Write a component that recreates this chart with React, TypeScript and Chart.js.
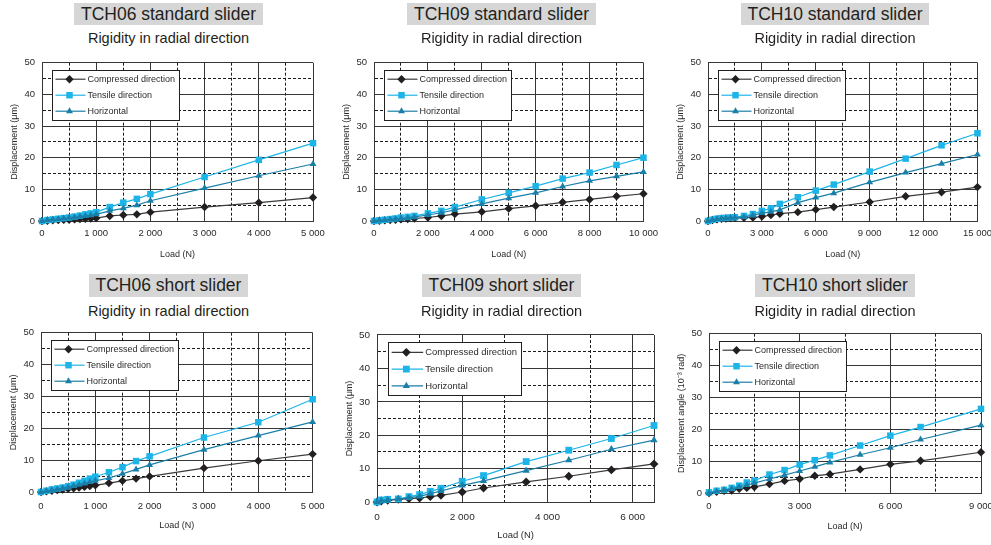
import React, { useEffect, useRef } from 'react';
import { Chart, registerables } from 'chart.js';

Chart.register(...registerables);

const FONT = "'Liberation Sans', Arial, Helvetica, sans-serif";

// ---------- DATA ----------
const seriesLabels = ['Compressed direction', 'Tensile direction', 'Horizontal'];

// TCH06 standard slider
const tch06StdLoad = [0, 100, 200, 300, 400, 500, 600, 700, 800, 900, 1000, 1250, 1500, 1750, 2000, 3000, 4000, 5000];
const tch06StdCompressed = [0, 0.1, 0.2, 0.3, 0.35, 0.4, 0.5, 0.6, 0.7, 0.8, 0.9, 1.6, 1.9, 2.1, 2.8, 4.4, 5.8, 7.4];
const tch06StdTensile = [0, 0.3, 0.5, 0.7, 0.9, 1.1, 1.4, 1.7, 2.1, 2.4, 2.8, 4.4, 5.8, 7.0, 8.5, 13.9, 19.3, 24.6];
const tch06StdHorizontal = [0, 0.3, 0.5, 0.6, 0.8, 1.0, 1.2, 1.4, 1.6, 1.8, 2.1, 3.2, 4.0, 5.0, 6.4, 10.4, 14.3, 18.0];

// TCH09 standard slider
const tch09StdLoad = [0, 200, 400, 600, 800, 1000, 1250, 1500, 2000, 2500, 3000, 4000, 5000, 6000, 7000, 8000, 9000, 10000];
const tch09StdCompressed = [0, 0.1, 0.2, 0.3, 0.4, 0.5, 0.6, 0.8, 1.1, 1.6, 2.2, 2.9, 3.9, 4.8, 5.9, 6.8, 7.8, 8.6];
const tch09StdTensile = [0, 0.2, 0.4, 0.6, 0.8, 1.1, 1.3, 1.6, 2.4, 3.2, 4.4, 6.8, 8.9, 11.0, 13.4, 15.3, 17.7, 20.0];
const tch09StdHorizontal = [0, 0.2, 0.3, 0.5, 0.6, 0.8, 1.0, 1.3, 1.9, 2.6, 3.5, 5.4, 7.2, 8.9, 10.9, 12.7, 14.1, 15.5];

// TCH10 standard slider
const tch10StdLoad = [0, 250, 500, 750, 1000, 1250, 1500, 2000, 2500, 3000, 3500, 4000, 5000, 6000, 7000, 9000, 11000, 13000, 15000];
const tch10StdCompressed = [0, 0.3, 0.5, 0.7, 0.8, 0.9, 1.0, 1.0, 1.1, 1.4, 1.9, 2.3, 2.8, 3.6, 4.4, 6.0, 7.8, 9.1, 10.7];
const tch10StdTensile = [0, 0.4, 0.7, 0.9, 1.0, 1.1, 1.2, 1.6, 2.2, 3.2, 4.0, 5.4, 7.5, 9.6, 11.5, 15.6, 19.7, 23.9, 27.7];
const tch10StdHorizontal = [0, 0.3, 0.6, 0.8, 0.9, 1.0, 1.1, 1.3, 1.8, 2.5, 2.9, 3.5, 5.8, 7.4, 8.8, 12.2, 15.3, 18.1, 21.0];

// TCH06 short slider
const tch06ShortLoad = [0, 100, 200, 300, 400, 500, 600, 700, 800, 900, 1000, 1250, 1500, 1750, 2000, 3000, 4000, 5000];
const tch06ShortCompressed = [0, 0.2, 0.4, 0.6, 0.8, 1.0, 1.2, 1.4, 1.6, 1.9, 2.1, 2.8, 3.5, 4.2, 4.9, 7.5, 9.8, 11.9];
const tch06ShortTensile = [0, 0.4, 0.8, 1.1, 1.4, 1.8, 2.3, 2.9, 3.5, 4.2, 4.8, 6.2, 7.8, 9.7, 11.2, 17.1, 21.9, 29.1];
const tch06ShortHorizontal = [0, 0.3, 0.6, 0.9, 1.2, 1.5, 1.9, 2.3, 2.7, 3.1, 3.5, 4.4, 5.7, 7.1, 8.5, 13.3, 17.7, 22.0];

// TCH09 short slider
const tch09ShortLoad = [0, 100, 250, 500, 750, 1000, 1250, 1500, 2000, 2500, 3500, 4500, 5500, 6500];
const tch09ShortCompressed = [0, 0.3, 0.5, 0.8, 1.0, 1.2, 1.6, 2.0, 3.0, 4.2, 6.0, 7.7, 9.6, 11.4];
const tch09ShortTensile = [0, 0.6, 0.8, 0.9, 1.6, 2.2, 3.2, 4.1, 6.2, 7.9, 12.1, 15.5, 19.0, 22.9];
const tch09ShortHorizontal = [0, 0.4, 0.6, 0.9, 1.3, 1.7, 2.5, 3.3, 5.0, 6.3, 9.4, 12.5, 15.8, 18.5];

// TCH10 short slider
const tch10ShortLoad = [0, 250, 500, 750, 1000, 1250, 1500, 2000, 2500, 3000, 3500, 4000, 5000, 6000, 7000, 9000];
const tch10ShortCompressed = [0, 0.4, 0.7, 0.8, 1.3, 1.6, 1.9, 2.8, 3.8, 4.4, 5.4, 5.9, 7.4, 9.0, 10.1, 12.8];
const tch10ShortTensile = [0.2, 0.7, 1.0, 1.6, 2.3, 3.3, 3.9, 5.8, 7.2, 8.9, 10.3, 11.8, 14.9, 18.0, 20.7, 26.4];
const tch10ShortHorizontal = [0, 0.5, 0.9, 1.3, 1.9, 2.5, 3.1, 4.4, 5.6, 6.9, 8.2, 9.6, 12.0, 14.2, 16.8, 21.3];

// ---------- STYLE ----------
const COL_COMP = '#231f20';
const COL_COMP_LINE = '#3a3a3a';
const COL_TENS = '#1db4e8';
const COL_HOR = '#1a7fa8';
const GRID_SOLID = '#363636';
const GRID_DASH = '#1c1c1c';
const TEXT = '#2a2a2a';

type Panel = {
  title: string;
  L: number; T: number; R: number; B: number;
  xMax: number; xMajor: number;
  yTitle: string;
  loads: number[]; comp: number[]; tens: number[]; hor: number[];
  box: [number, number, number, number];
  subY: number;
  s: number;
  padRight: number;
  tickPad: number;
};

const panels: Panel[] = [
  { title: 'TCH06 standard slider', L: 42, T: 60, R: 313, B: 221, xMax: 5000, xMajor: 1000, yTitle: 'Displacement (μm)',
    loads: tch06StdLoad, comp: tch06StdCompressed, tens: tch06StdTensile, hor: tch06StdHorizontal,
    box: [74, 3, 189, 22], subY: 38, s: 1, padRight: 20, tickPad: 7 },
  { title: 'TCH09 standard slider', L: 374, T: 60, R: 645, B: 221, xMax: 10000, xMajor: 2000, yTitle: 'Displacement (μm)',
    loads: tch09StdLoad, comp: tch09StdCompressed, tens: tch09StdTensile, hor: tch09StdHorizontal,
    box: [407, 3, 189, 22], subY: 38, s: 1, padRight: 20, tickPad: 7 },
  { title: 'TCH10 standard slider', L: 708, T: 60, R: 979, B: 221, xMax: 15000, xMajor: 3000, yTitle: 'Displacement (μm)',
    loads: tch10StdLoad, comp: tch10StdCompressed, tens: tch10StdTensile, hor: tch10StdHorizontal,
    box: [741, 3, 188, 22], subY: 38, s: 1, padRight: 20, tickPad: 7 },
  { title: 'TCH06 short slider', L: 41, T: 330, R: 313, B: 492, xMax: 5000, xMajor: 1000, yTitle: 'Displacement (μm)',
    loads: tch06ShortLoad, comp: tch06ShortCompressed, tens: tch06ShortTensile, hor: tch06ShortHorizontal,
    box: [89, 274, 159, 23], subY: 311, s: 1, padRight: 20, tickPad: 8.5 },
  { title: 'TCH09 short slider', L: 377, T: 332, R: 661, B: 502, xMax: 6500, xMajor: 2000, yTitle: 'Displacement (μm)',
    loads: tch09ShortLoad, comp: tch09ShortCompressed, tens: tch09ShortTensile, hor: tch09ShortHorizontal,
    box: [422, 274, 159, 23], subY: 311, s: 1.05, padRight: 2, tickPad: 9 },
  { title: 'TCH10 short slider', L: 709, T: 331, R: 981, B: 493, xMax: 9000, xMajor: 3000, yTitle: 'Displacement angle (10⁻³ rad)',
    loads: tch10ShortLoad, comp: tch10ShortCompressed, tens: tch10ShortTensile, hor: tch10ShortHorizontal,
    box: [755, 274, 160, 23], subY: 311, s: 1, padRight: 20, tickPad: 8 },
];

function fmt(v: number): string {
  return String(Math.round(v)).replace(/\B(?=(\d{3})+(?!\d))/g, ' ');
}

function stepValues(max: number, step: number): number[] {
  const out: number[] = [];
  for (let v = 0; v <= max + 1e-9; v += step) out.push(v);
  if (out[out.length - 1] < max) out.push(max);
  return out;
}

function drawMarker(ctx: CanvasRenderingContext2D, style: string, x: number, y: number, r: number, color: string) {
  ctx.fillStyle = color;
  ctx.beginPath();
  if (style === 'rectRot') {
    ctx.moveTo(x, y - r); ctx.lineTo(x + r, y); ctx.lineTo(x, y + r); ctx.lineTo(x - r, y);
  } else if (style === 'rect') {
    const h = r * Math.SQRT1_2;
    ctx.rect(x - h, y - h, 2 * h, 2 * h);
  } else {
    const h = r * 1.5;
    const w = r * Math.sqrt(3) / 2;
    ctx.moveTo(x, y - h * 2 / 3); ctx.lineTo(x + w, y + h / 3); ctx.lineTo(x - w, y + h / 3);
  }
  ctx.closePath();
  ctx.fill();
}

const boxLegend = {
  id: 'boxLegend',
  afterDraw(chart: any, _args: any, opts: any) {
    const { ctx, chartArea } = chart;
    const s = opts.s || 1;
    const x0 = Math.round(chartArea.left + 10 * s) + 0.5;
    const y0 = Math.round(chartArea.top + 7 * s) + 0.5;
    const w = Math.round(127 * s);
    const h = Math.round(50 * s);
    ctx.save();
    ctx.fillStyle = '#ffffff';
    ctx.fillRect(x0, y0, w, h);
    ctx.strokeStyle = '#231f20';
    ctx.lineWidth = 1;
    ctx.setLineDash([]);
    ctx.strokeRect(x0, y0, w, h);
    const specs = [
      { line: COL_COMP_LINE, col: COL_COMP, style: 'rectRot', r: 4.2 },
      { line: COL_TENS, col: COL_TENS, style: 'rect', r: 4.6 },
      { line: COL_HOR, col: COL_HOR, style: 'triangle', r: 4 },
    ];
    specs.forEach((sp, i) => {
      const y = chartArea.top + (16.5 + 16 * i) * s;
      ctx.strokeStyle = sp.line;
      ctx.lineWidth = 1.2;
      ctx.beginPath();
      ctx.moveTo(x0 + 3 * s, y);
      ctx.lineTo(x0 + 33 * s, y);
      ctx.stroke();
      drawMarker(ctx, sp.style, x0 + 17 * s, y, sp.r * s, sp.col);
      ctx.fillStyle = TEXT;
      ctx.font = `${9 * s}px ${FONT}`;
      ctx.textAlign = 'left';
      ctx.textBaseline = 'middle';
      ctx.fillText(seriesLabels[i], x0 + 35 * s, y + 0.5);
    });
    ctx.restore();
  },
};

function ChartPanel({ p }: { p: Panel }) {
  const ref = useRef<HTMLCanvasElement>(null);
  const padLeft = 45, padTop = 10, padBottom = 45;
  const width = p.R - p.L + padLeft + p.padRight;
  const height = p.B - p.T + padTop + padBottom;

  useEffect(() => {
    if (!ref.current) return;
    const half = p.xMajor / 2;
    const xMinor = (v: number) => Math.abs(v % p.xMajor) > 1e-6 && Math.abs(v % half) < 1e-6;
    const yMinor = (v: number) => Math.abs(v % 10) > 1e-6 && Math.abs(v % 5) < 1e-6;
    const mk = (ys: number[]) => p.loads.map((x, i) => ({ x, y: ys[i] }));
    const s = p.s;
    const xTickValues = stepValues(p.xMax, half);
    const yTickValues = stepValues(50, 5);
    const chart = new Chart(ref.current, {
      type: 'line',
      data: {
        datasets: [
          { label: seriesLabels[0], data: mk(p.comp), borderColor: COL_COMP_LINE, backgroundColor: COL_COMP,
            pointBackgroundColor: COL_COMP, pointBorderColor: COL_COMP, pointStyle: 'rectRot', pointRadius: 4.2 * s,
            pointBorderWidth: 0, borderWidth: 1.2, clip: false, order: 2 } as any,
          { label: seriesLabels[1], data: mk(p.tens), borderColor: COL_TENS, backgroundColor: COL_TENS,
            pointBackgroundColor: COL_TENS, pointBorderColor: COL_TENS, pointStyle: 'rect', pointRadius: 4.6 * s,
            pointBorderWidth: 0, borderWidth: 1.2, clip: false, order: 1 } as any,
          { label: seriesLabels[2], data: mk(p.hor), borderColor: COL_HOR, backgroundColor: COL_HOR,
            pointBackgroundColor: COL_HOR, pointBorderColor: COL_HOR, pointStyle: 'triangle', pointRadius: 4 * s,
            pointBorderWidth: 0, borderWidth: 1.2, clip: false, order: 0 } as any,
        ],
      },
      options: {
        responsive: false,
        animation: false,
        devicePixelRatio: 1,
        layout: { padding: { top: padTop, right: p.padRight, left: 0, bottom: 0 } },
        plugins: {
          legend: { display: false },
          tooltip: { enabled: false },
          boxLegend: { s },
        } as any,
        scales: {
          x: {
            type: 'linear',
            min: 0,
            max: p.xMax,
            afterBuildTicks: (sc: any) => { sc.ticks = xTickValues.map((v) => ({ value: v })); },
            afterFit: (sc: any) => { sc.height = padBottom; },
            ticks: {
              autoSkip: false,
              maxRotation: 0,
              padding: p.tickPad,
              color: TEXT,
              font: { family: FONT, size: 9.5 * s },
              callback: (v: any) => (Math.abs(Number(v) % p.xMajor) < 1e-6 ? fmt(Number(v)) : ''),
            },
            grid: {
              drawTicks: false,
              color: (c: any) => (c.tick && xMinor(c.tick.value) ? GRID_DASH : GRID_SOLID),
              lineWidth: 1,
            },
            border: {
              display: true,
              color: GRID_SOLID,
              width: 1,
              dash: (c: any) => (c.tick && xMinor(c.tick.value) ? [3, 2] : []),
            },
            title: {
              display: true,
              text: 'Load (N)',
              color: TEXT,
              font: { family: FONT, size: 9 * s },
              padding: { top: 0, bottom: 5.6 },
            },
          },
          y: {
            type: 'linear',
            min: 0,
            max: 50,
            afterBuildTicks: (sc: any) => { sc.ticks = yTickValues.map((v) => ({ value: v })); },
            afterFit: (sc: any) => { sc.width = padLeft; },
            ticks: {
              autoSkip: false,
              padding: 7,
              color: TEXT,
              font: { family: FONT, size: 9.5 * s },
              callback: (v: any) => (Math.abs(Number(v) % 10) < 1e-6 ? String(v) : ''),
            },
            grid: {
              drawTicks: false,
              color: (c: any) => (c.tick && yMinor(c.tick.value) ? GRID_DASH : GRID_SOLID),
              lineWidth: 1,
            },
            border: {
              display: true,
              color: GRID_SOLID,
              width: 1,
              dash: (c: any) => (c.tick && yMinor(c.tick.value) ? [3, 2] : []),
            },
            title: {
              display: true,
              text: p.yTitle,
              color: TEXT,
              font: { family: FONT, size: 9 },
              padding: { top: 12.6, bottom: 0 },
            },
          },
        },
      } as any,
      plugins: [boxLegend],
    });
    return () => chart.destroy();
  }, []);

  return (
    <canvas
      ref={ref}
      width={width}
      height={height}
      style={{ position: 'absolute', left: p.L - padLeft, top: p.T - padTop, width, height }}
    />
  );
}

function Titles({ p }: { p: Panel }) {
  const [bx, by, bw, bh] = p.box;
  const cx = bx + bw / 2;
  return (
    <>
      <div
        style={{
          position: 'absolute', left: bx, top: by, width: bw, height: bh, background: '#d6d6d6',
          display: 'flex', alignItems: 'center', justifyContent: 'center',
          fontFamily: FONT, fontSize: 17.5, color: '#231f20', whiteSpace: 'nowrap',
        }}
      >
        {p.title}
      </div>
      <div
        style={{
          position: 'absolute', left: cx - 150, top: p.subY - 9, width: 300, height: 18, lineHeight: '18px',
          textAlign: 'center', fontFamily: FONT, fontSize: 14.5, color: '#231f20', whiteSpace: 'nowrap',
        }}
      >
        Rigidity in radial direction
      </div>
    </>
  );
}

export default function App() {
  return (
    <div style={{ position: 'fixed', left: 0, top: 0, width: 991, height: 545, overflow: 'hidden', background: '#ffffff' }}>
      {panels.map((p, i) => (
        <React.Fragment key={i}>
          <ChartPanel p={p} />
          <Titles p={p} />
        </React.Fragment>
      ))}
    </div>
  );
}
